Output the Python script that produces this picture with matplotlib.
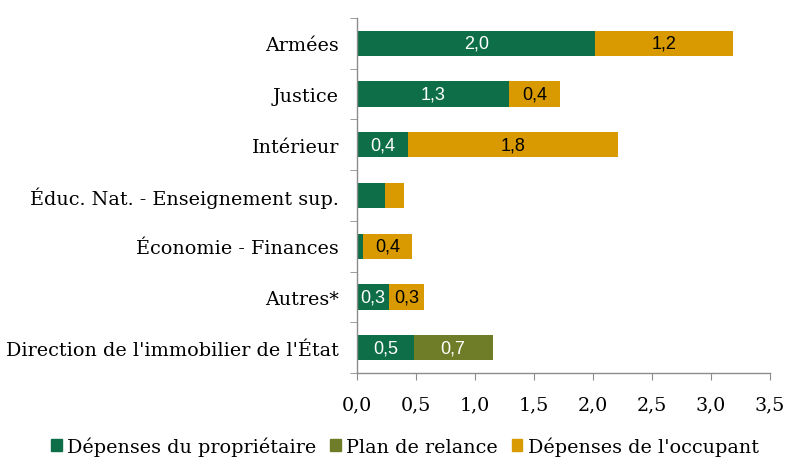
import numpy as np
import matplotlib.pyplot as plt
from matplotlib.patches import Patch

categories = ["Armées", "Justice", "Intérieur", "Éduc. Nat. - Enseignement sup.",
              "Économie - Finances", "Autres*", "Direction de l'immobilier de l'État"]
proprietaire = [2.02, 1.29, 0.43, 0.24, 0.05, 0.27, 0.48]
relance = [0.0, 0.0, 0.0, 0.0, 0.0, 0.0, 0.67]
occupant = [1.17, 0.43, 1.78, 0.16, 0.42, 0.30, 0.0]
# which segments get a value label
show_prop = [True, True, True, False, False, True, True]
show_rel = [False, False, False, False, False, False, True]
show_occ = [True, True, True, False, True, True, False]
xticks = [0.0, 0.5, 1.0, 1.5, 2.0, 2.5, 3.0, 3.5]

c_prop = '#0E6E48'
c_rel = '#6F7D28'
c_occ = '#D89A00'
serif = 'DejaVu Serif'
sans = 'Liberation Sans'

fig = plt.figure(figsize=(7.87, 4.60), dpi=100)
ax = fig.add_axes([357 / 787, 1 - 374 / 460, 413 / 787, 355 / 460])

y = np.arange(len(categories))
prop = np.array(proprietaire)
rel = np.array(relance)
occ = np.array(occupant)

h = 0.5
ax.barh(y, prop, height=h, color=c_prop, edgecolor='none')
ax.barh(y, rel, left=prop, height=h, color=c_rel, edgecolor='none')
ax.barh(y, occ, left=prop + rel, height=h, color=c_occ, edgecolor='none')

def fmt(v):
    return f"{v:.1f}".replace('.', ',')

for i in range(len(categories)):
    if show_prop[i]:
        ax.text(prop[i] / 2, y[i], fmt(prop[i]), ha='center', va='center',
                color='white', fontsize=13, family=sans)
    if show_rel[i]:
        ax.text(prop[i] + rel[i] / 2, y[i], fmt(rel[i]), ha='center', va='center',
                color='white', fontsize=13, family=sans)
    if show_occ[i]:
        ax.text(prop[i] + rel[i] + occ[i] / 2, y[i], fmt(occ[i]), ha='center', va='center',
                color='black', fontsize=13, family=sans)

ax.set_xlim(0, 3.5)
ax.set_ylim(len(categories) - 0.5, -0.5)
ax.set_xticks(xticks)
ax.set_xticklabels([fmt(t) for t in xticks], family=serif, fontsize=13.8)
ax.set_yticks(y)
ax.set_yticklabels(categories, family=serif, fontsize=13.8)
ax.tick_params(axis='y', which='major', length=0, pad=13)
ax.set_yticks(np.arange(-0.5, len(categories), 1.0), minor=True)
ax.tick_params(axis='y', which='minor', length=5, color='#8c8c8c', direction='out')
ax.tick_params(axis='x', length=5, color='#8c8c8c', direction='out', pad=11)

for s in ['top', 'right']:
    ax.spines[s].set_visible(False)
for s in ['left', 'bottom']:
    ax.spines[s].set_color('#8c8c8c')
    ax.spines[s].set_linewidth(1.0)

handles = [Patch(color=c_prop), Patch(color=c_rel), Patch(color=c_occ)]
labels = ["Dépenses du propriétaire", "Plan de relance", "Dépenses de l'occupant"]
fig.legend(handles, labels, loc='center', bbox_to_anchor=(405 / 787, 1 - 447 / 460),
           ncol=3, frameon=False, prop={'family': serif, 'size': 13.8},
           handlelength=0.55, handleheight=0.55, handletextpad=0.3, columnspacing=0.7)

fig.savefig('out.png', dpi=100)
